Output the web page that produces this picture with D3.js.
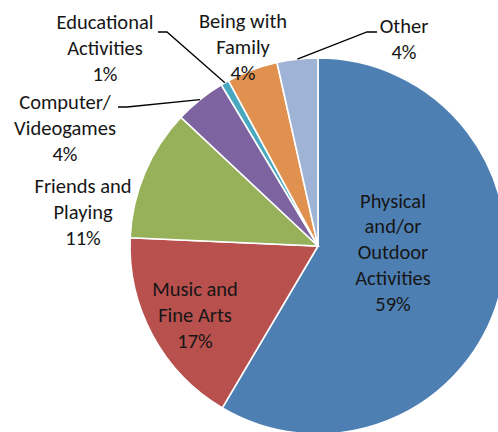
<!DOCTYPE html>
<html>
<head>
<meta charset="utf-8">
<script src="https://cdn.jsdelivr.net/npm/d3@7"></script>
<style>
  body { margin: 0; background: #fff; }
  svg { display: block; }
  .lbl { font-family: Carlito, Lato, "Liberation Sans", sans-serif; font-size: 20.5px; fill: #161616; }
  .leader { fill: none; stroke: #000; stroke-width: 1.3; }
</style>
</head>
<body>
<script>
//chart data
var categories = ["Physical and/or Outdoor Activities", "Music and Fine Arts", "Friends and Playing",
    "Computer/ Videogames", "Educational Activities", "Being with Family", "Other"];
var shares = [58.5, 17.2, 11.3, 4.4, 0.7, 4.4, 3.5]; //slice sizes
var pctLabels = ["59%", "17%", "11%", "4%", "1%", "4%", "4%"];
var labelLines = [
    ["Physical", "and/or", "Outdoor", "Activities"],
    ["Music and", "Fine Arts"],
    ["Friends and", "Playing"],
    ["Computer/", "Videogames"],
    ["Educational", "Activities"],
    ["Being with", "Family"],
    ["Other"]
];
var colors = ["#4e7fb3", "#b8504d", "#97b15a", "#7d64a0", "#4aa7c0", "#e0914f", "#9fb3d6"];

(function(){

    var width = 498, height = 432,
        cx = 318, cy = 246, radius = 188,
        lineH = 25.8;

    //label placement (offset of label block centre from pie centre)
    var labelAt = [[75, 6], [-123, 69], [-235, -34], [-253, -118], [-213, -198], [-75, -199], [86, -207]];
    //leader line start + knee, relative to pie centre (null = no leader)
    var leaders = [null, null, null, [[-200, -139], [-191, -139]], [[-160, -214], [-151, -214]], null, [[59, -214], [49, -214]]];

    var svg = d3.select("body").append("svg")
        .attr("width", width)
        .attr("height", height);

    var g = svg.append("g")
        .attr("transform", "translate(" + cx + "," + cy + ")");

    var pie = d3.pie()
        .sort(null)
        .value(function(d){ return d; });

    var arcs = pie(shares);

    var arc = d3.arc()
        .innerRadius(0)
        .outerRadius(radius);

    //slices
    g.selectAll(".slice")
        .data(arcs)
        .enter()
        .append("path")
        .attr("class", "slice")
        .attr("d", arc)
        .style("fill", function(d, i){ return colors[i]; })
        .style("stroke", "#fff")
        .style("stroke-width", 1.6);

    //leader lines
    arcs.forEach(function(d, i){
        if (!leaders[i]) return;
        var mid = (d.startAngle + d.endAngle) / 2;
        var end = [radius * Math.sin(mid), -radius * Math.cos(mid)];
        g.append("path")
            .attr("class", "leader")
            .attr("d", d3.line()([leaders[i][0], leaders[i][1], end]));
    });

    //labels
    arcs.forEach(function(d, i){
        var lines = labelLines[i].concat([pctLabels[i]]);
        var y0 = labelAt[i][1] - (lines.length - 1) * lineH / 2;
        var t = g.append("text")
            .attr("class", "lbl")
            .attr("text-anchor", "middle");
        lines.forEach(function(s, j){
            t.append("tspan")
                .attr("x", labelAt[i][0])
                .attr("y", y0 + j * lineH)
                .attr("dy", "0.35em")
                .text(s);
        });
    });
})();
</script>
</body>
</html>
